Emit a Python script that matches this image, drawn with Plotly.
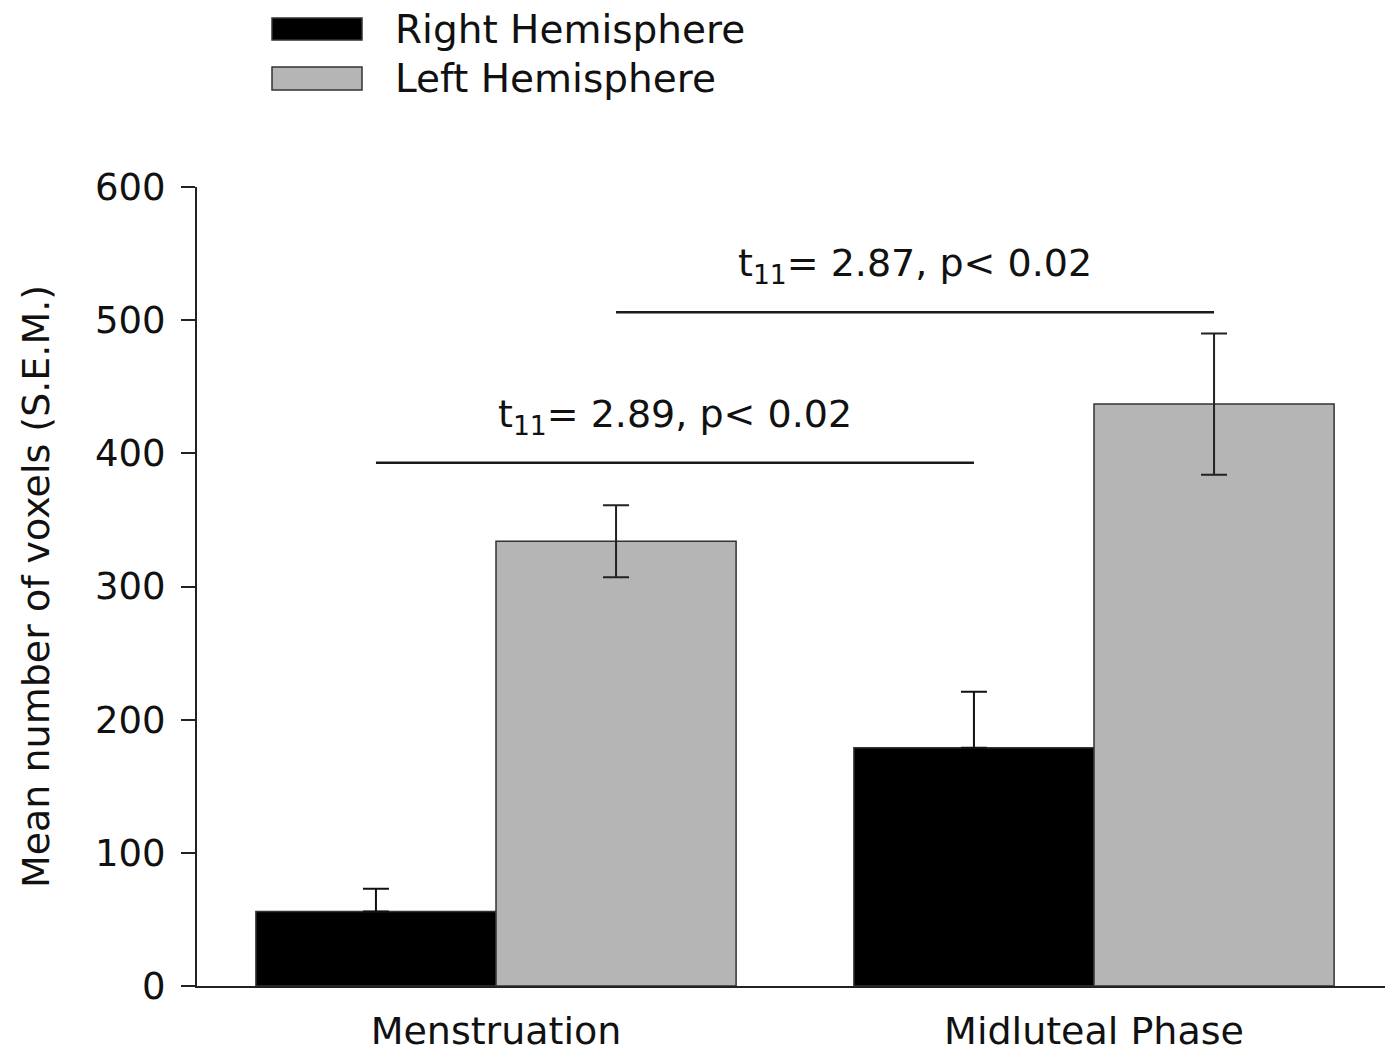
import plotly.graph_objects as go

# ---- data ----
categories = ["Menstruation", "Midluteal Phase"]
right_hemisphere = [56, 179]
right_err = [17, 42]
left_hemisphere = [334, 437]
left_err = [27, 53]
y_ticks = [0, 100, 200, 300, 400, 500, 600]
sig_labels = ["t<sub>11</sub>= 2.89, p< 0.02", "t<sub>11</sub>= 2.87, p< 0.02"]
sig_heights = [393, 506]
series_names = ["Right Hemisphere", "Left Hemisphere"]

W, H = 1393, 1054
OFF = 8  # page body margin
ML, MR, MT = 197 - OFF, OFF, 187 - OFF
MB = H - MT - (986 - 187)
FONT = "DejaVu Sans"
BLACK = "#000000"
GRAY = "#b5b5b5"
OUTLINE = "#333333"
BARGAP = 0.197

fig = go.Figure()
fig.add_trace(go.Bar(
    x=categories, y=right_hemisphere, name=series_names[0],
    marker=dict(color=BLACK, line=dict(color=OUTLINE, width=1.5)),
    error_y=dict(type="data", symmetric=False, array=right_err,
                 arrayminus=[0 for _ in right_err],
                 color="#111111", thickness=2, width=13),
    showlegend=False,
))
fig.add_trace(go.Bar(
    x=categories, y=left_hemisphere, name=series_names[1],
    marker=dict(color=GRAY, line=dict(color=OUTLINE, width=1.5)),
    error_y=dict(type="data", array=left_err, color="#222222", thickness=2, width=13),
    showlegend=False,
))

# significance lines: from bar center to bar center
half = (1 - BARGAP) / 4.0
sig_spans = [(0 - half, 1 - half), (0 + half, 1 + half)]
for (x0, x1), yv, lab in zip(sig_spans, sig_heights, sig_labels):
    fig.add_shape(type="line", xref="x", yref="y", x0=x0, x1=x1, y0=yv, y1=yv,
                  line=dict(color="#1a1a1a", width=2.5))
    fig.add_annotation(x=(x0 + x1) / 2, y=yv, xref="x", yref="y", text=lab,
                       showarrow=False, yanchor="bottom", yshift=20,
                       font=dict(family=FONT, size=38, color="#111111"))

# custom legend (paper coords); inputs are page pixel positions
pw = W - ML - MR
ph = H - MT - MB
def px(x):
    return (x - OFF - ML) / pw
def py(y):
    return (H - MB - (y - OFF)) / ph

legend_rows = [(18, 40, BLACK), (67, 90, GRAY)]
for (y0, y1, col), name in zip(legend_rows, series_names):
    fig.add_shape(type="rect", xref="paper", yref="paper",
                  x0=px(272), x1=px(362), y0=py(y1), y1=py(y0),
                  fillcolor=col, line=dict(color=OUTLINE, width=1.5))
    fig.add_annotation(xref="paper", yref="paper", x=px(393), y=py((y0 + y1) / 2),
                       text=name, showarrow=False, xanchor="left", yanchor="middle",
                       font=dict(family=FONT, size=39, color="#111111"))

fig.update_layout(
    width=W, height=H,
    margin=dict(l=ML, r=MR, t=MT, b=MB, pad=0),
    paper_bgcolor="white", plot_bgcolor="white",
    barmode="group", bargap=BARGAP, bargroupgap=0,
    font=dict(family=FONT, color="#111111"),
    showlegend=False,
)
fig.update_xaxes(
    type="category", range=[-0.5, 1.5],
    showline=True, linecolor="#222222", linewidth=2,
    ticks="", showgrid=False, zeroline=False,
    tickfont=dict(family=FONT, size=38, color="#111111"),
    ticklabelstandoff=10,
)
fig.update_yaxes(
    range=[0, 600], tickvals=y_ticks, ticktext=[str(v) for v in y_ticks],
    showline=True, linecolor="#222222", linewidth=2,
    ticks="outside", ticklen=14, tickwidth=2, tickcolor="#222222",
    showgrid=False, zeroline=False,
    tickfont=dict(family=FONT, size=37, color="#111111"),
    ticklabelstandoff=8,
    title=dict(text="Mean number of voxels (S.E.M.)", standoff=34,
               font=dict(family=FONT, size=38, color="#111111")),
)

fig.write_html("out.html")
